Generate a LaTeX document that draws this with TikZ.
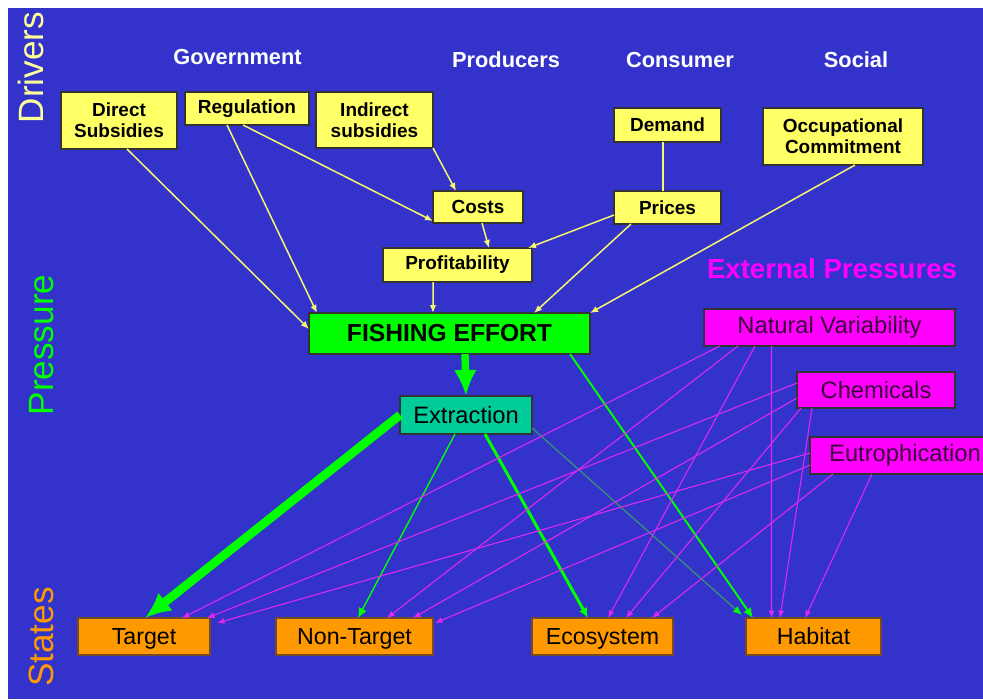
\documentclass[tikz,border=0pt]{standalone}
\usepackage{fontspec}
\setmainfont{Liberation Sans}
\usetikzlibrary{arrows.meta, positioning}

\definecolor{bgblue}{RGB}{51,51,204}
\definecolor{boxyellow}{RGB}{255,255,102}
\definecolor{lineyellow}{RGB}{245,245,110}
\definecolor{driverlbl}{RGB}{255,255,153}
\definecolor{fgreen}{RGB}{0,255,0}
\definecolor{dimgreen}{RGB}{51,150,110}
\definecolor{extrteal}{RGB}{0,204,153}
\definecolor{extmag}{RGB}{255,0,255}
\definecolor{linemag}{RGB}{225,40,240}
\definecolor{magtext}{RGB}{60,0,60}
\definecolor{stateorange}{RGB}{255,153,0}

\begin{document}
\begin{tikzpicture}[
    x=0.2mm, y=-0.2mm,
    every node/.style={align=center, inner sep=1pt, outer sep=0pt},
    header/.style={text=white, font=\bfseries\fontsize{12.4}{14}\selectfont},
    sidelbl/.style={rotate=90, anchor=base, font=\fontsize{20}{24}\selectfont},
    ybox/.style={draw=black!80, line width=0.6pt, fill=boxyellow, font=\bfseries\fontsize{10.8}{12}\selectfont},
    effortbox/.style={draw=black!80, line width=0.6pt, fill=fgreen, font=\bfseries\fontsize{14}{16}\selectfont},
    extrbox/.style={draw=black!80, line width=0.6pt, fill=extrteal, font=\fontsize{13.5}{15}\selectfont},
    mbox/.style={draw=black!80, line width=0.6pt, fill=extmag, text=magtext, font=\fontsize{13.5}{15}\selectfont},
    sbox/.style={draw=brown!60!black, line width=0.6pt, fill=stateorange, minimum height=7.4mm, text height=9.5pt, text depth=0pt, font=\fontsize{13.2}{15}\selectfont},
    yarrow/.style={-{Latex[length=1.6mm, width=1.3mm]}, draw=lineyellow, line width=0.85pt},
    garrow/.style={-{Latex[length=2mm, width=1.8mm]}, draw=fgreen},
    bigarrow/.style={-{Latex[length=5.2mm, width=4.6mm]}, draw=fgreen},
    marrow/.style={-{Latex[length=1.5mm, width=1.2mm]}, draw=linemag, line width=0.6pt}
]

    % Background
    \useasboundingbox (0,0) rectangle (983,699);
    \fill[white] (0,0) rectangle (983,699);
    \fill[bgblue] (8,8) rectangle (983,699);

    % Side labels and headings
    \node (drivers) [sidelbl, text=driverlbl] at (43,67.5) {Drivers};
    \node (pressure) [sidelbl, text=fgreen] at (53,345) {Pressure};
    \node (states) [sidelbl, text=stateorange] at (53,637) {States};
    \node (gov) [header] at (237.5,57) {Government};
    \node (prod) [header] at (506,60) {Producers};
    \node (cons) [header] at (680,60) {Consumer};
    \node (social) [header] at (856,60) {Social};
    \node (extp) [text=extmag, font=\bfseries\fontsize{15.7}{18}\selectfont] at (832,269) {External Pressures};

    % Drivers
    \node (direct) [ybox, minimum width=23.2mm, minimum height=11.4mm] at (119,120.5) {Direct\\Subsidies};
    \node (regulation) [ybox, minimum width=24.8mm, minimum height=6.6mm, right=1.6mm of direct.north east, anchor=north west] {Regulation};
    \node (indirect) [ybox, minimum width=23.4mm, minimum height=11.2mm, right=1.4mm of regulation.north east, anchor=north west] {Indirect\\subsidies};
    \node (costs) [ybox, minimum width=18mm, minimum height=6.4mm] at (478,207) {Costs};
    \node (profit) [ybox, minimum width=29.8mm, minimum height=6.8mm] at (457.5,265) {Profitability};
    \node (demand) [ybox, minimum width=21.4mm, minimum height=6.8mm] at (667.5,125) {Demand};
    \node (prices) [ybox, minimum width=21.4mm, minimum height=6.6mm, below=9.8mm of demand] {Prices};
    \node (occ) [ybox, minimum width=32mm, minimum height=11.4mm] at (843,136.5) {Occupational\\Commitment};

    % Pressure
    \node (effort) [effortbox, minimum width=56.2mm, minimum height=8.2mm] at (449.5,333.5) {FISHING EFFORT};
    \node (extraction) [extrbox, minimum width=26.4mm, minimum height=7.6mm, below=8.4mm of effort, xshift=3.3mm] {Extraction};
    \node (natvar) [mbox, minimum width=50.2mm, minimum height=7.4mm] at (829.5,327.5) {Natural Variability};
    \node (chem) [mbox, minimum width=31.6mm, minimum height=7.2mm, below=5.2mm of natvar.south east, anchor=north east] {Chemicals};
    \node (eutro) [mbox, minimum width=38mm, minimum height=7.4mm] at (905,455.5) {Eutrophication};

    % States
    \node (target) [sbox, minimum width=26.4mm] at (144,636.5) {Target};
    \node (nontarget) [sbox, minimum width=31.4mm, right=13.2mm of target] {Non-Target};
    \node (ecosystem) [sbox, minimum width=28.2mm, right=19.8mm of nontarget] {Ecosystem};
    \node (habitat) [sbox, minimum width=27mm, right=14.6mm of ecosystem] {Habitat};

    % Driver edges
    \draw [yarrow] ([xshift=1.6mm]direct.south) -- ([yshift=0.9mm]effort.west);
    \draw [yarrow] ([xshift=-4mm]regulation.south) -- ([xshift=1.6mm]effort.north west);
    \draw [yarrow] ([xshift=-0.8mm]regulation.south) -- ([yshift=0.4mm]costs.south west);
    \draw [yarrow] (indirect.south east) -- ([xshift=-4.4mm]costs.north);
    \draw [yarrow] ([xshift=0.8mm]costs.south) -- ([xshift=6.3mm]profit.north);
    \draw [draw=lineyellow, line width=0.85pt] ([xshift=-0.9mm]demand.south) -- ([xshift=-0.9mm]prices.north);
    \draw [yarrow] ([yshift=-1.5mm]prices.west) -- ([xshift=-0.8mm]profit.north east);
    \draw [yarrow] ([xshift=3.4mm]prices.south west) -- ([xshift=16.9mm]effort.north);
    \draw [yarrow] ([xshift=2.4mm]occ.south) -- (effort.north east);
    \draw [yarrow] ([xshift=-4.9mm]profit.south) -- ([xshift=-3.3mm]effort.north);

    % Pressure edges
    \draw [bigarrow, line width=4.2pt] ([xshift=3.1mm]effort.south) -- (extraction.north);
    \draw [bigarrow, line width=5pt] (extraction.west) -- ([xshift=0.2mm]target.north);
    \draw [garrow, line width=0.8pt] ([xshift=-2.2mm]extraction.south) -- ([xshift=0.7mm]nontarget.north);
    \draw [garrow, line width=1.7pt] ([xshift=3.8mm]extraction.south) -- ([xshift=-2.9mm]ecosystem.north);
    \draw [-{Latex[length=1.8mm, width=1.5mm, color=fgreen]}, draw=dimgreen, line width=0.7pt] ([yshift=-2.6mm]extraction.east) -- ([xshift=-0.8mm, yshift=0.6mm]habitat.north west);
    \draw [garrow, line width=1.1pt] ([xshift=-4mm]effort.south east) -- ([xshift=1.4mm]habitat.north west);

    % External pressure edges
    \draw [marrow] ([xshift=3.2mm]natvar.south west) -- ([xshift=7.6mm]target.north);
    \draw [marrow] ([xshift=6.8mm]natvar.south west) -- ([xshift=6.5mm]nontarget.north);
    \draw [marrow] ([xshift=10.2mm]natvar.south west) -- ([xshift=1.1mm]ecosystem.north);
    \draw [marrow] ([xshift=13.5mm]natvar.south west) -- ([xshift=-8.4mm]habitat.north);
    \draw [marrow] ([yshift=1.4mm]chem.west) -- ([xshift=12.6mm]target.north);
    \draw [marrow] ([yshift=-1.6mm]chem.west) -- ([xshift=11.7mm]nontarget.north);
    \draw [marrow] ([xshift=0.8mm]chem.south west) -- ([xshift=4.7mm]ecosystem.north);
    \draw [marrow] ([xshift=3mm]chem.south west) -- ([xshift=-6.7mm]habitat.north);
    \draw [marrow] ([yshift=0.5mm]eutro.west) -- ([xshift=1.4mm, yshift=-1mm]target.north east);
    \draw [marrow] ([yshift=-1.9mm]eutro.west) -- ([xshift=0.4mm, yshift=-1mm]nontarget.north east);
    \draw [marrow] ([xshift=4.6mm]eutro.south west) -- ([xshift=9.9mm]ecosystem.north);
    \draw [marrow] ([xshift=12.4mm]eutro.south west) -- ([xshift=-1.7mm]habitat.north);
\end{tikzpicture}
\end{document}
